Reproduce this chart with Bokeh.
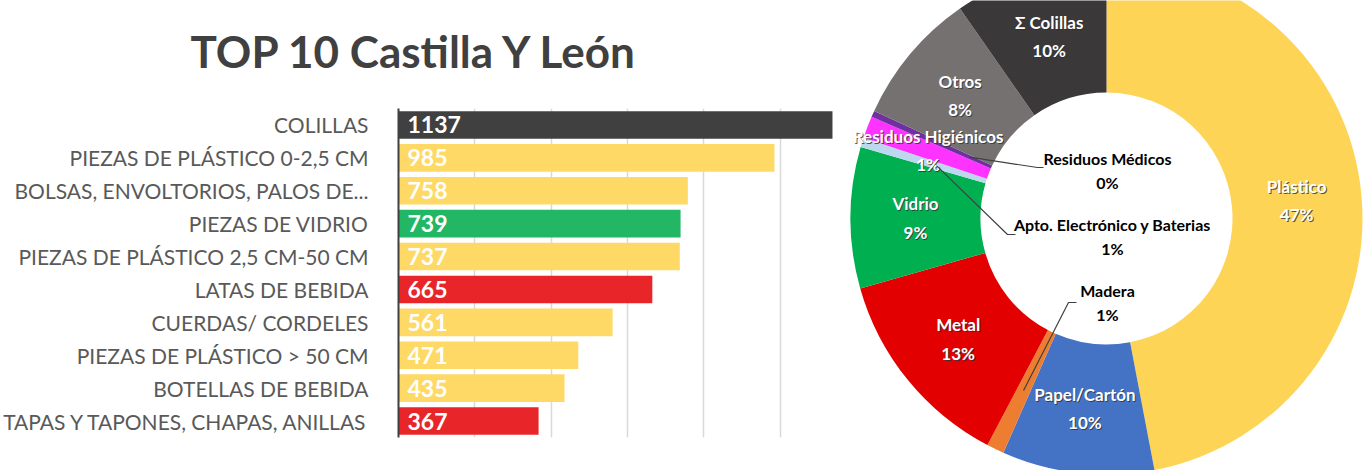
import math
from bokeh.plotting import figure
from bokeh.models import FactorRange, Range1d, FixedTicker, ColumnDataSource, Grid
from bokeh.layouts import row, column
from bokeh.embed import file_html
from bokeh.resources import INLINE
from bokeh.core.properties import value

# ---------------- data ----------------
title_text = "TOP 10 Castilla Y León"
categories = [
    "COLILLAS",
    "PIEZAS DE PLÁSTICO 0-2,5 CM",
    "BOLSAS, ENVOLTORIOS, PALOS DE...",
    "PIEZAS DE VIDRIO",
    "PIEZAS DE PLÁSTICO 2,5 CM-50 CM",
    "LATAS DE BEBIDA",
    "CUERDAS/ CORDELES",
    "PIEZAS DE PLÁSTICO > 50 CM",
    "BOTELLAS DE BEBIDA",
    "TAPAS Y TAPONES, CHAPAS, ANILLAS",
]
counts = [1137, 985, 758, 739, 737, 665, 561, 471, 435, 367]
bar_colors = ["#404040", "#FFD966", "#FFD966", "#22B765", "#FFD966",
              "#E8262A", "#FFD966", "#FFD966", "#FFD966", "#E8262A"]
x_ticks = [200, 400, 600, 800, 1000]

materials = ["Plástico", "Papel/Cartón", "Madera", "Metal", "Vidrio",
             "Apto. Electrónico y Baterias", "Residuos Higiénicos",
             "Residuos Médicos", "Otros", "Σ Colillas"]
shares = [47.0, 9.6, 1.1, 12.9, 8.9, 0.6, 1.4, 0.4, 8.4, 9.7]
material_colors = ["#FDD455", "#4472C4", "#ED7D31", "#E30000", "#00B050",
                   "#BDD7EE", "#FF33FF", "#7030A0", "#767171", "#3A3838"]

FONT = "Lato"

# ---------------- title strip ----------------
t = figure(width=840, height=108, x_range=Range1d(0, 840), y_range=Range1d(0, 108),
           toolbar_location=None, output_backend="svg", min_border=0,
           x_axis_location=None, y_axis_location=None)
t.frame_align = False
t.outline_line_color = None
t.grid.visible = False
t.text(x=[190], y=[58], text=[title_text], text_align="left",
       text_baseline="alphabetic", text_font=value(FONT),
       text_font_style="bold", text_font_size="44px", text_color="#404040")

# ---------------- bar chart ----------------
bar_src = ColumnDataSource(dict(
    cat=categories, count=counts, color=bar_colors,
    label=[str(c) for c in counts],
))

p = figure(width=840, height=362,
           y_range=FactorRange(factors=categories[::-1]),
           x_range=Range1d(0, 1158),
           x_axis_location=None,
           toolbar_location=None, output_backend="svg",
           min_border_left=398, min_border_right=0,
           min_border_top=0, min_border_bottom=33)
p.frame_align = False
p.outline_line_color = None
p.xgrid.visible = False
p.ygrid.visible = False
p.add_layout(Grid(dimension=0, ticker=FixedTicker(ticks=x_ticks),
                  grid_line_color="#D9D9D9", grid_line_width=1.5))

p.hbar(y="cat", left=0, right="count", height=0.84, fill_color="color",
       line_color=None, source=bar_src)
p.text(x=0, y="cat", text="label", x_offset=9, text_baseline="middle",
       text_align="left", text_font=value(FONT), text_font_style="bold",
       text_font_size="23px", text_color="white", source=bar_src)

ax = p.yaxis[0]
ax.major_label_text_font = FONT
ax.major_label_text_font_size = "21px"
ax.major_label_text_color = "#595959"
ax.major_tick_line_color = None
ax.minor_tick_line_color = None
ax.axis_line_color = "#404040"
ax.axis_line_width = 2
ax.major_label_standoff = 24

# ---------------- donut ----------------
total = sum(shares)
starts, ends, mids = [], [], []
cum = 0.0
for s in shares:
    a0 = math.pi / 2 - 2 * math.pi * cum / total
    cum += s
    a1 = math.pi / 2 - 2 * math.pi * cum / total
    starts.append(a1)
    ends.append(a0)
    mids.append((a0 + a1) / 2)

R_IN, R_OUT = 126, 256
R_MID = (R_IN + R_OUT) / 2

q = figure(width=527, height=470, x_range=Range1d(-266, 261),
           y_range=Range1d(-252, 218), toolbar_location=None,
           output_backend="svg", min_border=0,
           x_axis_location=None, y_axis_location=None)
q.frame_align = False
q.outline_line_color = None
q.grid.visible = False

q.annular_wedge(x=0, y=0, inner_radius=R_IN, outer_radius=R_OUT,
                start_angle=starts, end_angle=ends,
                fill_color=material_colors, line_color=None)

labels = [f"{m}\n{round(s)}%" for m, s in zip(materials, shares)]

# labels placed inside their slices
inside = [0, 1, 3, 4, 6, 8, 9]
in_src = ColumnDataSource(dict(
    x=[R_MID * math.cos(mids[i]) for i in inside],
    y=[R_MID * math.sin(mids[i]) for i in inside],
    t=[labels[i] for i in inside],
))
q.text(x="x", y="y", text="t", source=in_src, text_align="center",
       text_baseline="middle", text_font=value(FONT), text_font_style="bold",
       text_font_size="17px", text_color="#303030", text_alpha=0.8,
       text_line_height=1.35, x_offset=1, y_offset=1)
q.text(x="x", y="y", text="t", source=in_src, text_align="center",
       text_baseline="middle", text_font=value(FONT), text_font_style="bold",
       text_font_size="17px", text_color="white", text_line_height=1.35)

# labels with leader lines (layout positions)
outside = [2, 5, 7]
out_pos = {2: (1, -84), 5: (6, -18), 7: (1, 48)}
leader_elbow = {2: (-38, -84), 5: (-99, -16), 7: (-69, 51)}
leader_end = {2: (-30, -84), 5: (-91, -16), 7: (-63, 51)}
leader_r = {2: 191, 5: 178, 7: 150}
out_src = ColumnDataSource(dict(
    x=[out_pos[i][0] for i in outside],
    y=[out_pos[i][1] for i in outside],
    t=[labels[i] for i in outside],
))
xs, ys = [], []
for i in outside:
    sx = leader_r[i] * math.cos(mids[i])
    sy = leader_r[i] * math.sin(mids[i])
    xs.append([sx, leader_elbow[i][0], leader_end[i][0]])
    ys.append([sy, leader_elbow[i][1], leader_end[i][1]])
q.multi_line(xs=xs, ys=ys, line_color="#404040", line_width=1.2)
q.text(x="x", y="y", text="t", source=out_src, text_align="center",
       text_baseline="middle", text_font=value(FONT), text_font_style="bold",
       text_font_size="16px", text_color="black", text_line_height=1.3)

layout = row(column(t, p, spacing=0), q, spacing=0)
open("out.html", "w").write(file_html(layout, INLINE))
